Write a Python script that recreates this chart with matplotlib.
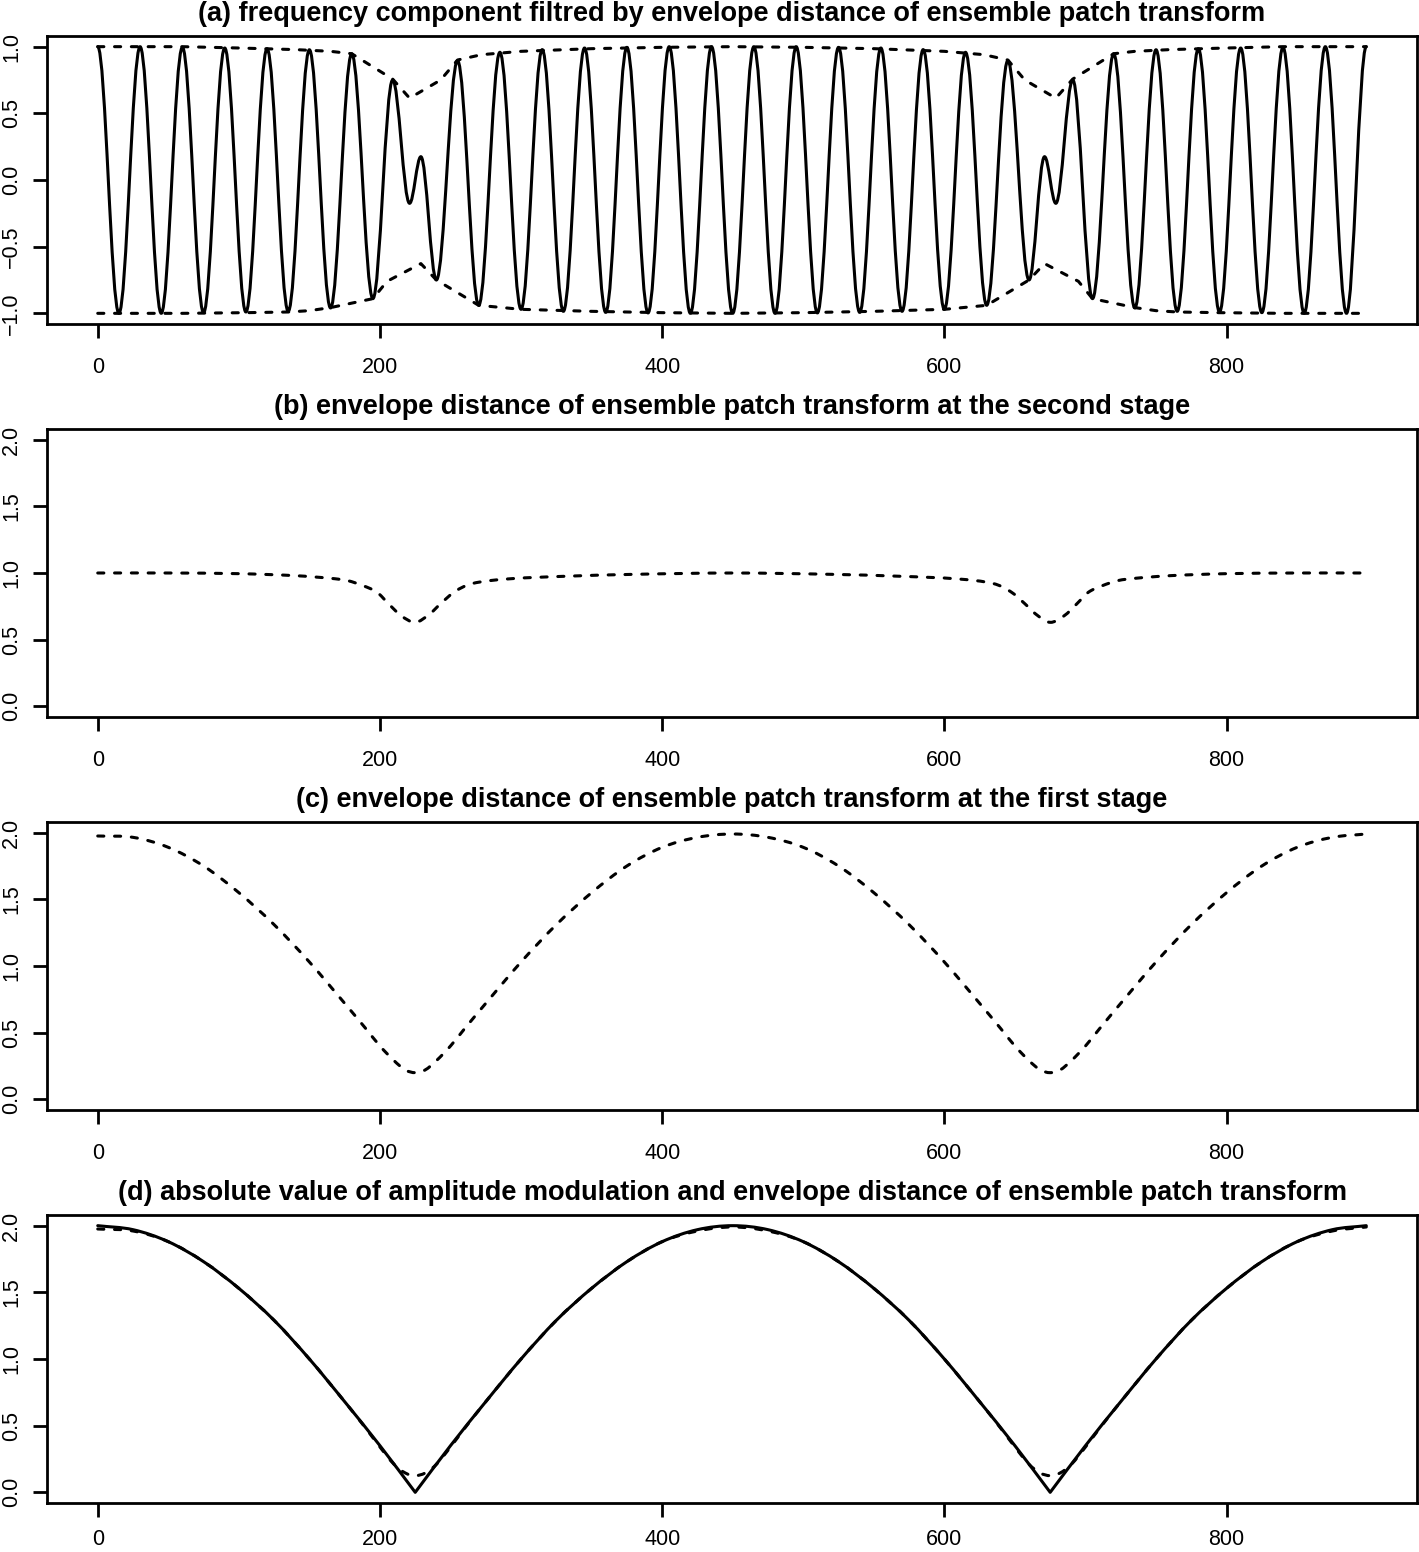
import matplotlib
matplotlib.use('Agg')
import matplotlib.pyplot as plt
from matplotlib.path import Path
from matplotlib.patches import PathPatch

plt.rcParams['font.family'] = ['Liberation Sans', 'DejaVu Sans']

# (a) extrema of the frequency component (position, value)
ext_x = [0, 15, 30, 45, 60, 75, 90, 105, 120, 135, 150, 165, 180, 195, 209, 221, 229, 240,
         255, 270, 285, 300, 315, 330, 345, 360, 375, 390, 405, 420, 435, 450, 465, 480,
         495, 510, 525, 540, 555, 570, 585, 600, 615, 630, 645, 660, 671, 679, 691, 705,
         720, 735, 750, 765, 780, 795, 810, 825, 840, 855, 870, 885, 899]
ext_y = [1.0, -1.0, 1.0, -1.0, 0.995, -0.995, 0.99, -0.99, 0.985, -0.985, 0.977, -0.96,
         0.947, -0.89, 0.75, -0.175, 0.175, -0.75, 0.895, -0.94, 0.958, -0.97, 0.978,
         -0.985, 0.99, -0.993, 0.995, -0.997, 1.0, -1.0, 1.0, -1.0, 1.0, -1.0, 1.0, -0.997,
         0.995, -0.993, 0.99, -0.985, 0.978, -0.97, 0.958, -0.94, 0.895, -0.75, 0.175,
         -0.175, 0.75, -0.89, 0.947, -0.96, 0.977, -0.985, 0.985, -0.99, 0.99, -0.995,
         0.995, -1.0, 1.0, -1.0, 1.0]

# (a) upper / lower envelopes
up_x = [0, 60, 100, 140, 165, 180, 209, 221, 243, 255, 272, 300, 350, 400, 450, 500, 550,
        600, 628, 645, 657, 679, 691, 720, 735, 760, 800, 840, 899]
up_y = [1.0, 1.0, 0.99, 0.978, 0.965, 0.947, 0.757, 0.614, 0.75, 0.90, 0.94, 0.965, 0.985,
        0.995, 1.0, 0.995, 0.985, 0.965, 0.94, 0.90, 0.75, 0.614, 0.757, 0.947, 0.965,
        0.978, 0.99, 1.0, 1.0]
lo_x = [0, 60, 105, 135, 150, 165, 195, 205, 229, 240, 270, 300, 350, 400, 450, 500, 550,
        600, 630, 660, 671, 695, 705, 735, 750, 765, 795, 840, 899]
lo_y = [-1.0, -1.0, -0.995, -0.99, -0.98, -0.957, -0.89, -0.76, -0.627, -0.75, -0.94, -0.97,
        -0.985, -0.995, -1.0, -0.995, -0.985, -0.97, -0.94, -0.75, -0.627, -0.76, -0.89,
        -0.957, -0.98, -0.99, -0.995, -1.0, -1.0]

# (b) envelope distance, second stage
b_x = [0, 50, 100, 140, 165, 177, 188, 198, 206, 215, 225, 235, 243, 253, 265, 290, 330,
       380, 450, 520, 570, 610, 635, 647, 657, 665, 675, 685, 694, 702, 712, 723, 735, 760,
       800, 850, 899]
b_y = [1.0, 1.0, 0.995, 0.98, 0.96, 0.943, 0.905, 0.855, 0.77, 0.68, 0.63, 0.69, 0.77, 0.86,
       0.92, 0.955, 0.975, 0.99, 1.0, 0.99, 0.975, 0.955, 0.92, 0.86, 0.77, 0.69, 0.63, 0.68,
       0.77, 0.855, 0.905, 0.943, 0.96, 0.98, 0.995, 1.0, 1.0]

# (c) envelope distance, first stage
c_x = [0, 25, 50, 75, 100, 125, 150, 175, 190, 200, 210, 218, 225, 232, 240, 250, 260, 275,
       300, 325, 350, 375, 400, 425, 450, 475, 500, 525, 550, 575, 600, 625, 640, 650, 660,
       668, 675, 682, 690, 700, 710, 725, 750, 775, 800, 825, 850, 875, 899]
c_y = [1.975, 1.965, 1.89, 1.75, 1.55, 1.31, 1.03, 0.72, 0.53, 0.40, 0.29, 0.22, 0.20, 0.22,
       0.29, 0.40, 0.53, 0.72, 1.03, 1.31, 1.55, 1.75, 1.89, 1.965, 1.99, 1.965, 1.89, 1.75,
       1.55, 1.31, 1.03, 0.72, 0.53, 0.40, 0.29, 0.22, 0.20, 0.22, 0.29, 0.40, 0.53, 0.72,
       1.03, 1.31, 1.55, 1.75, 1.89, 1.965, 1.99]

# (d) |amplitude modulation| (solid) and product of envelope distances (dashed)
am_x = [0, 25, 50, 75, 100, 125, 150, 175, 200, 225, 250, 275, 300, 325, 350, 375, 400, 425,
        450, 475, 500, 525, 550, 575, 600, 625, 650, 675, 700, 725, 750, 775, 800, 825, 850,
        875, 899]
am_y = [2.0, 1.97, 1.88, 1.73, 1.53, 1.29, 1.0, 0.68, 0.35, 0.0, 0.35, 0.68, 1.0, 1.29, 1.53,
        1.73, 1.88, 1.97, 2.0, 1.97, 1.88, 1.73, 1.53, 1.29, 1.0, 0.68, 0.35, 0.0, 0.35, 0.68,
        1.0, 1.29, 1.53, 1.73, 1.88, 1.97, 2.0]
am_kinks = [225, 675]
ed_x = [0, 25, 50, 75, 100, 125, 150, 175, 190, 200, 210, 218, 225, 232, 240, 250, 260, 275,
        300, 325, 350, 375, 400, 425, 450, 475, 500, 525, 550, 575, 600, 625, 640, 650, 660,
        668, 675, 682, 690, 700, 710, 725, 750, 775, 800, 825, 850, 875, 899]
ed_y = [1.975, 1.96, 1.88, 1.73, 1.53, 1.29, 1.0, 0.68, 0.48, 0.34, 0.21, 0.145, 0.125, 0.145,
        0.21, 0.34, 0.48, 0.68, 1.0, 1.29, 1.53, 1.73, 1.88, 1.96, 1.99, 1.96, 1.88, 1.73,
        1.53, 1.29, 1.0, 0.68, 0.48, 0.34, 0.21, 0.145, 0.125, 0.145, 0.21, 0.34, 0.48, 0.68,
        1.0, 1.29, 1.53, 1.73, 1.88, 1.96, 1.99]

titles = ['(a) frequency component filtred by envelope distance of ensemble patch transform',
          '(b) envelope distance of ensemble patch transform at the second stage',
          '(c) envelope distance of ensemble patch transform at the first stage',
          '(d) absolute value of amplitude modulation and envelope distance of ensemble patch transform']

LW = 2.2
DASH = (0, (2.0, 3.5))


def wave_path(xs, ys, k=0.364):
    # half-cosine-like segments between consecutive extrema
    verts = [(xs[0], ys[0])]
    codes = [Path.MOVETO]
    for x0, y0, x1, y1 in zip(xs[:-1], ys[:-1], xs[1:], ys[1:]):
        dx = x1 - x0
        verts += [(x0 + k * dx, y0), (x1 - k * dx, y1), (x1, y1)]
        codes += [Path.CURVE4] * 3
    return Path(verts, codes)


def smooth_path(xs, ys, kinks=()):
    # cubic hermite curve through the points, corners kept at the kinks
    n = len(xs)
    slopes = []
    for i in range(n):
        if i == 0 or xs[i] in kinks:
            j0, j1 = i, min(i + 1, n - 1)
        else:
            j0, j1 = i - 1, min(i + 1, n - 1)
        slopes.append((ys[j1] - ys[j0]) / (xs[j1] - xs[j0]))
    left = list(slopes)
    for i in range(1, n):
        if xs[i] in kinks or i == n - 1:
            left[i] = (ys[i] - ys[i - 1]) / (xs[i] - xs[i - 1])
    verts = [(xs[0], ys[0])]
    codes = [Path.MOVETO]
    for i in range(n - 1):
        dx = xs[i + 1] - xs[i]
        verts += [(xs[i] + dx / 3, ys[i] + slopes[i] * dx / 3),
                  (xs[i + 1] - dx / 3, ys[i + 1] - left[i + 1] * dx / 3),
                  (xs[i + 1], ys[i + 1])]
        codes += [Path.CURVE4] * 3
    return Path(verts, codes)


def draw(ax, path, dashed=False):
    ax.add_patch(PathPatch(path, fill=False, lw=LW, edgecolor='black',
                           linestyle=DASH if dashed else '-', capstyle='round',
                           joinstyle='round'))


def style_axes(ax, yticks, ylim, title, xpad=13.5):
    ax.set_xlim(-35.96, 934.96)
    ax.set_ylim(*ylim)
    ax.set_xticks([0, 200, 400, 600, 800])
    ax.set_yticks(yticks)
    ax.set_yticklabels([('%.1f' % v).replace('-', '\u2212') for v in yticks])
    for s in ax.spines.values():
        s.set_linewidth(2.0)
    ax.tick_params(direction='out', length=10, width=2.0, labelsize=15.5)
    ax.tick_params(axis='x', pad=xpad)
    ax.tick_params(axis='y', pad=8, labelrotation=90)
    for lab in ax.get_yticklabels():
        lab.set_va('center')
    ax.set_title(title, fontsize=19.5, fontweight='bold', pad=11)


fig = plt.figure(figsize=(14.19, 15.52), dpi=100)
W, H = 1419.0, 1552.0
tops = [36, 429, 822, 1215]
axes = [fig.add_axes([47 / W, 1 - (t + 288) / H, 1370 / W, 288 / H]) for t in tops]

ax = axes[0]
draw(ax, wave_path(ext_x, ext_y))
ax.plot(up_x, up_y, color='black', lw=LW, linestyle=DASH, dash_capstyle='round')
ax.plot(lo_x, lo_y, color='black', lw=LW, linestyle=DASH, dash_capstyle='round')
style_axes(ax, [-1.0, -0.5, 0.0, 0.5, 1.0], (-1.08, 1.08), titles[0])

ax = axes[1]
draw(ax, smooth_path(b_x, b_y), dashed=True)
style_axes(ax, [0.0, 0.5, 1.0, 1.5, 2.0], (-0.08, 2.08), titles[1])

ax = axes[2]
draw(ax, smooth_path(c_x, c_y), dashed=True)
style_axes(ax, [0.0, 0.5, 1.0, 1.5, 2.0], (-0.08, 2.08), titles[2])

ax = axes[3]
draw(ax, smooth_path(am_x, am_y, kinks=am_kinks))
draw(ax, smooth_path(ed_x, ed_y), dashed=True)
style_axes(ax, [0.0, 0.5, 1.0, 1.5, 2.0], (-0.08, 2.08), titles[3], xpad=9.0)

fig.savefig('out.png', dpi=100)
